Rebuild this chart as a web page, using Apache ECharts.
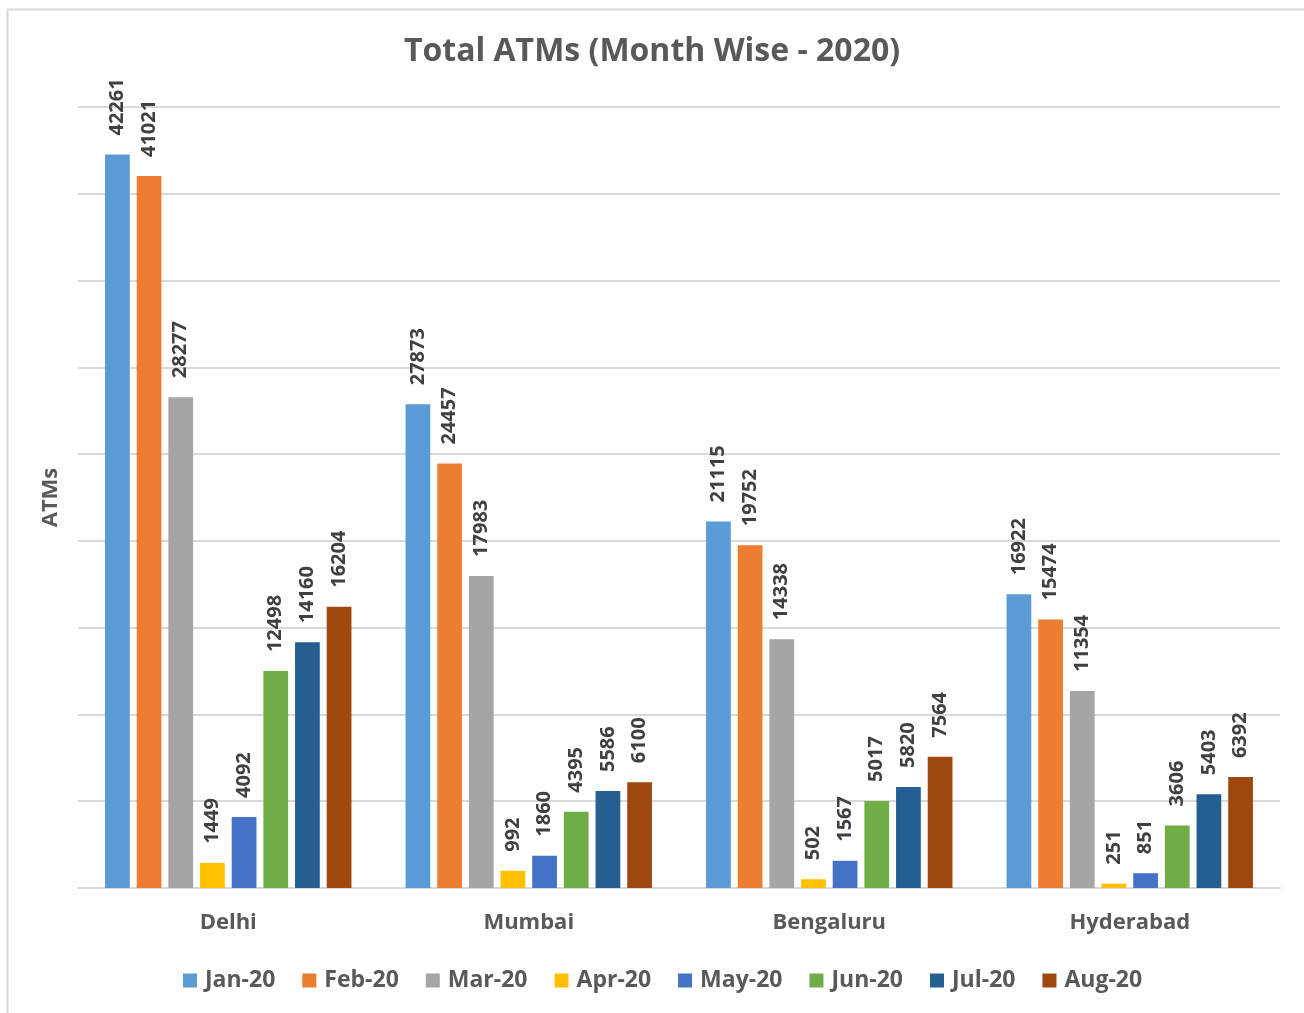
<!DOCTYPE html>
<html>
<head>
<meta charset="utf-8">
<script src="https://cdn.jsdelivr.net/npm/echarts@6/dist/echarts.min.js"></script>
<style>
html, body { margin: 0; padding: 0; background: #fff; }
#main { width: 1304px; height: 1013px; }
</style>
</head>
<body>
<div id="main"></div>
<script>
let cities = ['Delhi', 'Mumbai', 'Bengaluru', 'Hyderabad'];
let months = ['Jan-20', 'Feb-20', 'Mar-20', 'Apr-20', 'May-20', 'Jun-20', 'Jul-20', 'Aug-20'];
let jan20 = [42261, 27873, 21115, 16922];
let feb20 = [41021, 24457, 19752, 15474];
let mar20 = [28277, 17983, 14338, 11354];
let apr20 = [1449, 992, 502, 251];
let may20 = [4092, 1860, 1567, 851];
let jun20 = [12498, 4395, 5017, 3606];
let jul20 = [14160, 5586, 5820, 5403];
let aug20 = [16204, 6100, 7564, 6392];

let values = [jan20, feb20, mar20, apr20, may20, jun20, jul20, aug20];
let colors = ['#5B9BD5', '#ED7D31', '#A5A5A5', '#FFC000', '#4472C4', '#70AD47', '#255E91', '#9E480E'];
let font = '"Open Sans", Lato, sans-serif';

let myChart = echarts.init(document.getElementById('main'));

let option = {
    animation: false,
    color: colors,
    title: {
        text: 'Total ATMs (Month Wise - 2020)',
        left: 'center',
        top: 31,
        textStyle: { fontFamily: font, fontSize: 32, fontWeight: 'bold', color: '#595959' }
    },
    graphic: [{
        type: 'rect',
        shape: { x: 7.5, y: 9.5, width: 1400, height: 1100 },
        style: { fill: 'none', stroke: '#d9d9d9', lineWidth: 2 },
        silent: true
    }],
    legend: {
        bottom: 16,
        left: 178,
        itemWidth: 14,
        itemHeight: 14,
        itemGap: 27,
        icon: 'rect',
        textStyle: { fontFamily: font, fontSize: 23, fontWeight: 'bold', color: '#595959', padding: [0, 0, 0, 3] },
        data: months
    },
    grid: { left: 78, right: 24, top: 107, bottom: 125, containLabel: false },
    xAxis: {
        type: 'category',
        data: cities,
        axisTick: { show: false },
        axisLine: { lineStyle: { color: '#d9d9d9', width: 2 } },
        axisLabel: { fontFamily: font, fontSize: 22, fontWeight: 'bold', color: '#595959', margin: 24 }
    },
    yAxis: {
        type: 'value',
        min: 0,
        max: 45000,
        interval: 5000,
        name: 'ATMs',
        nameLocation: 'middle',
        nameGap: 16,
        nameRotate: 90,
        nameTextStyle: { fontFamily: font, fontSize: 22, fontWeight: 'bold', color: '#595959' },
        axisLabel: { show: false },
        axisLine: { show: false },
        axisTick: { show: false },
        splitLine: { lineStyle: { color: '#d9d9d9', width: 2 } }
    },
    series: months.map((m, i) => ({
        name: m,
        type: 'bar',
        data: values[i],
        barGap: '28%',
        barCategoryGap: '18%',
        label: {
            show: true,
            position: 'top',
            rotate: 90,
            align: 'left',
            verticalAlign: 'middle',
            distance: 19,
            fontFamily: font,
            fontSize: 20,
            fontWeight: 'bold',
            color: '#404040'
        }
    }))
};

myChart.setOption(option, true);
</script>
</body>
</html>
